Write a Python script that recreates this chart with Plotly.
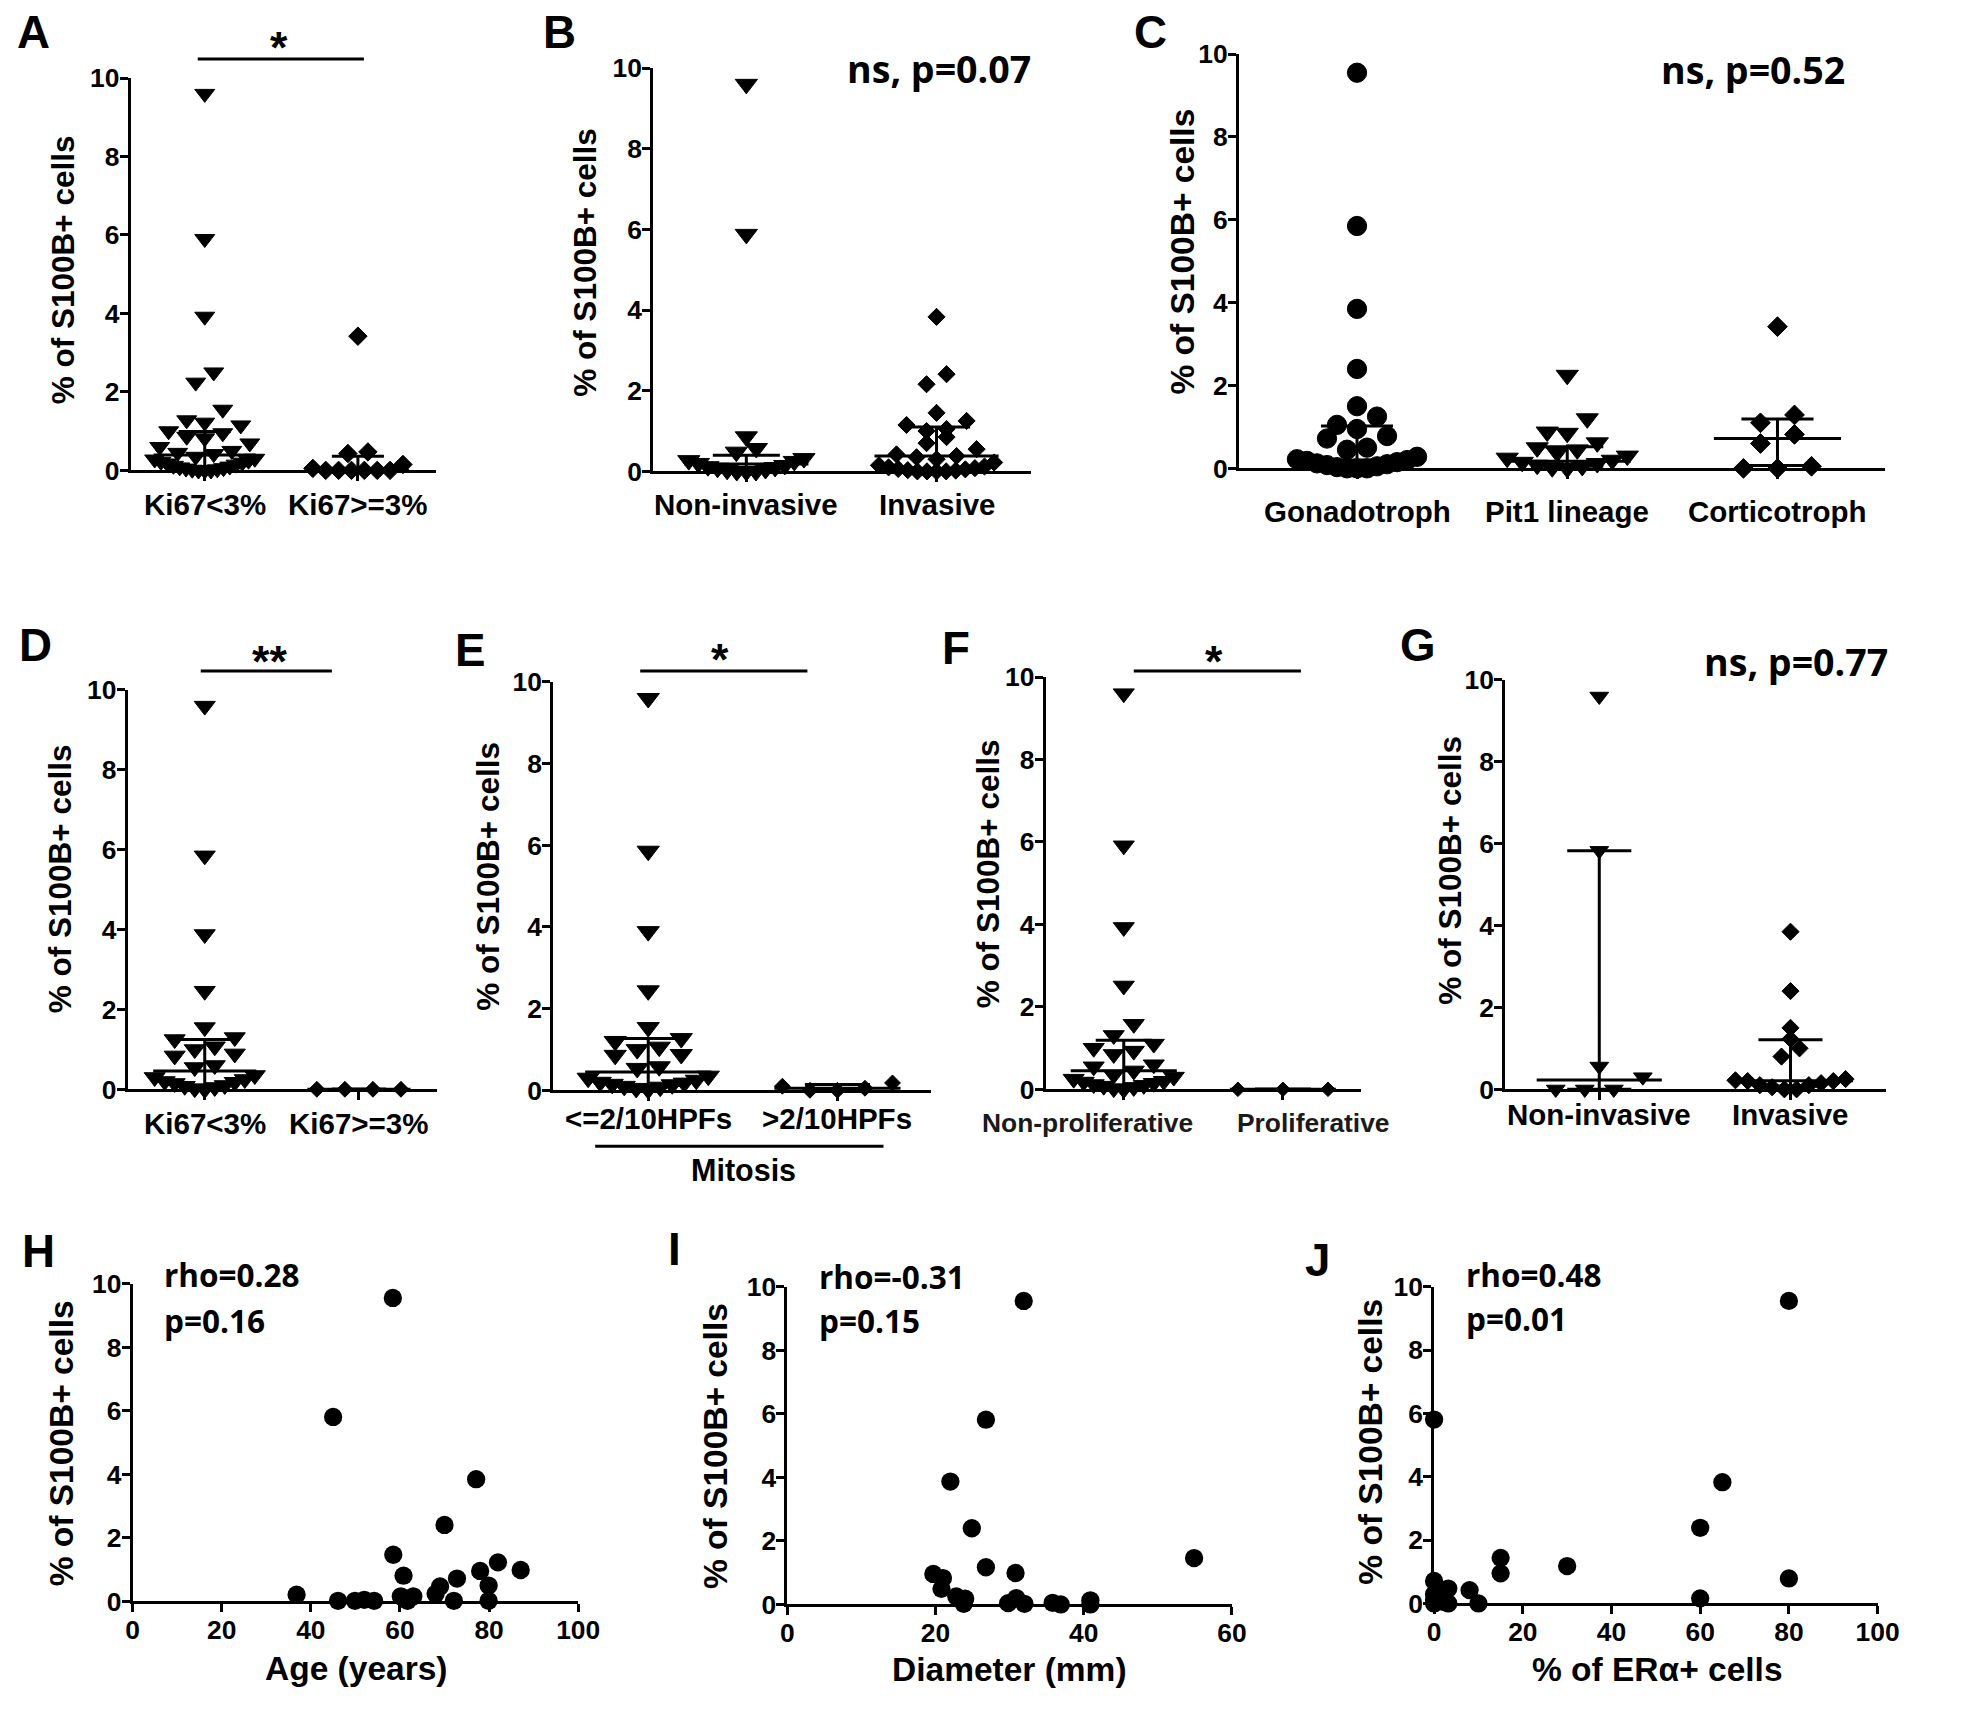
import numpy as np
import plotly.graph_objects as go

# ======================= DATA =======================
Y_TICKS = [0, 2, 4, 6, 8, 10]
Y_TITLE = "% of S100B+ cells"

# A
A_cats = ["Ki67<3%", "Ki67>=3%"]
A_ki67_low = [9.6, 5.9, 3.92, 2.5, 2.24, 1.55, 1.28, 1.22, 1.15, 1.0, 0.95, 0.86, 0.82, 0.69,
              0.6, 0.5, 0.45, 0.42, 0.35, 0.3, 0.28, 0.25, 0.22, 0.2, 0.18, 0.15, 0.12, 0.1,
              0.08, 0.06, 0.05, 0.03, 0.02, 0.0, 0.0, 0.0]
A_ki67_high = [3.42, 0.47, 0.43, 0.15, 0.05, 0.0, 0.0, 0.0, 0.0, 0.0, 0.0]
A_median = [0.39, 0.0]
A_q1 = [0.1, 0.0]
A_q3 = [0.99, 0.36]
A_sig = "*"

# B
B_cats = ["Non-invasive", "Invasive"]
B_noninvasive = [9.6, 5.88, 0.86, 0.57, 0.48, 0.32, 0.27, 0.25, 0.2, 0.15, 0.12, 0.1, 0.08,
                 0.05, 0.03, 0.0, 0.0, 0.0]
B_invasive = [3.83, 2.41, 2.16, 1.45, 1.25, 1.15, 1.05, 1.0, 0.85, 0.7, 0.55, 0.42, 0.38, 0.35,
              0.3, 0.22, 0.15, 0.12, 0.1, 0.08, 0.06, 0.05, 0.03, 0.02, 0.0, 0.0, 0.0, 0.0]
B_median = [0.18, 0.38]
B_q1 = [0.02, 0.05]
B_q3 = [0.40, 1.10]
B_stat = "ns, p=0.07"

# C
C_cats = ["Gonadotroph", "Pit1 lineage", "Corticotroph"]
C_gonadotroph = [9.55, 5.85, 3.85, 2.4, 1.5, 1.25, 1.05, 0.95, 0.78, 0.72, 0.5, 0.45, 0.28, 0.22,
                 0.2, 0.18, 0.15, 0.12, 0.1, 0.08, 0.05, 0.03, 0.0, 0.0, 0.0]
C_pit1 = [2.25, 1.2, 0.88, 0.85, 0.62, 0.5, 0.45, 0.38, 0.3, 0.25, 0.2, 0.15, 0.12, 0.08, 0.05,
          0.02, 0.0]
C_corticotroph = [3.42, 1.29, 1.1, 0.82, 0.6, 0.05, 0.0, 0.0]
C_median = [0.20, 0.17, 0.72]
C_q1 = [0.02, 0.05, 0.07]
C_q3 = [1.02, 0.52, 1.19]
C_stat = "ns, p=0.52"

# D
D_cats = ["Ki67<3%", "Ki67>=3%"]
D_ki67_low = [9.6, 5.85, 3.88, 2.46, 1.55, 1.3, 1.25, 1.07, 1.0, 0.89, 0.84, 0.6, 0.55, 0.35,
              0.3, 0.25, 0.2, 0.18, 0.15, 0.1, 0.08, 0.05, 0.02, 0.0]
D_ki67_high = [0.0, 0.0, 0.0, 0.0]
D_median = [0.46, 0.0]
D_q1 = [0.1, 0.0]
D_q3 = [1.25, 0.0]
D_sig = "**"

# E
E_cats = ["<=2/10HPFs", ">2/10HPFs"]
E_group_title = "Mitosis"
E_low = [9.6, 5.86, 3.89, 2.44, 1.54, 1.27, 1.2, 1.06, 1.0, 0.88, 0.86, 0.58, 0.54, 0.35, 0.3,
         0.25, 0.2, 0.18, 0.15, 0.14, 0.1, 0.08, 0.05, 0.02]
E_high = [0.18, 0.1, 0.05, 0.0, 0.0]
E_median = [0.45, 0.05]
E_q1 = [0.12, 0.0]
E_q3 = [1.27, 0.14]
E_sig = "*"

# F
F_cats = ["Non-proliferative", "Proliferative"]
F_nonproliferative = [9.6, 5.91, 3.93, 2.51, 1.58, 1.31, 1.1, 1.0, 0.93, 0.85, 0.6, 0.55, 0.45,
                      0.35, 0.3, 0.25, 0.2, 0.18, 0.15, 0.12, 0.1, 0.08, 0.05, 0.02, 0.0]
F_proliferative = [0.0, 0.0, 0.0]
F_median = [0.45, 0.0]
F_q1 = [0.1, 0.0]
F_q3 = [1.19, 0.0]
F_sig = "*"

# G
G_cats = ["Non-invasive", "Invasive"]
G_noninvasive = [9.6, 5.83, 0.56, 0.3, 0.0, 0.0, 0.0]
G_invasive = [3.85, 2.4, 1.5, 1.23, 1.0, 0.8, 0.25, 0.22, 0.2, 0.2, 0.15, 0.1, 0.1, 0.05, 0.0, 0.0]
G_median = [0.23, 0.21]
G_q1 = [0.0, 0.08]
G_q3 = [5.83, 1.21]
G_stat = "ns, p=0.77"

# H
H_age = [58.4, 45.0, 77.1, 70.0, 58.5, 82.0, 87.1, 78.0, 60.8, 72.8, 69.0, 79.9, 68.0, 36.8,
         46.1, 49.9, 52.0, 54.2, 60.2, 63.0, 61.7, 72.1, 79.9]
H_s100b = [9.56, 5.81, 3.85, 2.41, 1.47, 1.23, 0.99, 0.96, 0.81, 0.72, 0.47, 0.50, 0.24, 0.21,
           0.02, 0.02, 0.05, 0.02, 0.16, 0.16, 0.02, 0.02, 0.02]
H_xtitle = "Age (years)"
H_xticks = [0, 20, 40, 60, 80, 100]
H_stats = ["rho=0.28", "p=0.16"]

# I
I_diameter = [31.9, 26.8, 22.0, 24.9, 54.9, 26.8, 30.8, 19.7, 21.0, 20.8, 22.8, 24.0, 23.8, 29.8,
              30.9, 32.0, 35.8, 36.9, 40.9, 40.9]
I_s100b = [9.56, 5.82, 3.87, 2.40, 1.46, 1.17, 0.99, 0.96, 0.83, 0.49, 0.25, 0.18, 0.02, 0.04,
           0.20, 0.02, 0.05, 0.0, 0.13, 0.0]
I_xtitle = "Diameter (mm)"
I_xticks = [0, 20, 40, 60]
I_stats = ["rho=-0.31", "p=0.15"]

# J
J_era = [80, 0, 65, 60, 15, 30, 15, 80, 0, 3.2, 8, 0, 60, 10, 3.2, 0, 1.4, 0.5, 2, 0]
J_s100b = [9.56, 5.81, 3.83, 2.39, 1.44, 1.18, 0.95, 0.79, 0.71, 0.47, 0.42, 0.29, 0.16, 0.0,
           0.0, 0.0, 0.1, 0.2, 0.05, 0.12]
J_xtitle = "% of ERα+ cells"
J_xticks = [0, 20, 40, 60, 80, 100]
J_stats = ["rho=0.48", "p=0.01"]

# ======================= LAYOUT / STYLE =======================
PAGE_W, PAGE_H = 1961, 1712
BODY_MARGIN = 8                      # default browser body margin around the plot div
W, H = PAGE_W - 2 * BODY_MARGIN, PAGE_H - 2 * BODY_MARGIN
# empirical correction of the photographed page (slight shrink + shift)
SHRINK = 0.984
SHIFT_X, SHIFT_Y = 5.6, 14.0
FONT = "Liberation Sans, Arial, Helvetica, sans-serif"
STAT_FONT = "Open Sans, Noto Sans, DejaVu Sans, sans-serif"
BLACK = "black"


def sz(v):
    return round(v / SHRINK, 1)


def pxx(v):
    v = (v - SHIFT_X) / SHRINK
    return (v - BODY_MARGIN) / W


def pxy(v):
    v = (v - SHIFT_Y) / SHRINK
    return 1 - (v - BODY_MARGIN) / H


def axis_ids(k):
    s = "" if k == 1 else str(k)
    return "x" + s, "y" + s, "xaxis" + s, "yaxis" + s


AX_COMMON = dict(showline=True, linewidth=3, linecolor=BLACK, ticks="outside", ticklen=8,
                 tickwidth=3, tickcolor=BLACK, showgrid=False, zeroline=False, fixedrange=True)
TICKFONT = dict(family=FONT, size=sz(26), color=BLACK)


def bold_ticks(vals):
    return ["<b>%g</b>" % v for v in vals]


def row_offsets(vals, y_ppu, bin_px, gap_px, maxw_px):
    """GraphPad-like scatter-dot spreading: bin by y, spread each row horizontally."""
    vals = np.asarray(vals, float)
    order = np.argsort(vals, kind="stable")
    offs = np.zeros(len(vals))
    rows, cur, start = [], [], None
    for i in order:
        ypx = vals[i] * y_ppu
        if cur and ypx - start < bin_px:
            cur.append(i)
        else:
            if cur:
                rows.append(cur)
            cur, start = [i], ypx
    if cur:
        rows.append(cur)
    for r in rows:
        n = len(r)
        if n == 1:
            continue
        sp = min(gap_px, maxw_px / (n - 1))
        pos = (np.arange(n) - (n - 1) / 2) * sp
        order_pos = sorted(range(n), key=lambda j: (abs(pos[j]), pos[j]))
        for idx, j in zip(r, order_pos):
            offs[idx] = pos[j]
    return offs


fig = go.Figure()
layout_axes = {}
annotations = []
shapes = []


def text_ann(text, x, y, size, family=FONT, xanchor="center", yanchor="middle", angle=0,
             xref="paper", color=BLACK):
    annotations.append(dict(text=text, x=x, y=y, xref=xref, yref="paper", showarrow=False,
                            xanchor=xanchor, yanchor=yanchor, textangle=angle,
                            font=dict(family=family, size=sz(size), color=color,
                                      weight="bold")))


def hline_px(x0, x1, y, width=3):
    shapes.append(dict(type="line", xref="paper", yref="paper", x0=pxx(x0), x1=pxx(x1),
                       y0=pxy(y), y1=pxy(y), line=dict(color=BLACK, width=width)))


cat_panels = [
    dict(letter="A", letter_xy=(32, 31), groups=[A_ki67_low, A_ki67_high],
         symbols=[("triangle-down", 17), ("diamond", 14)], cats=A_cats,
         med=A_median, q1=A_q1, q3=A_q3, left=129, right=434, top=77, bottom=470,
         cat_px=[203, 356], label_y=504, label_fs=29, label_dx=[0, 0], ytitle_xy=(61, 269),
         ytitle_fs=31, med_w=102, cap_w=52, gap=[18, 20], maxw=[100, 90],
         sig=A_sig, sig_line=(196, 362, 58), sig_txt=(277, 46)),
    dict(letter="B", letter_xy=(557, 31), groups=[B_noninvasive, B_invasive],
         symbols=[("triangle-down", 19), ("diamond", 13)], cats=B_cats,
         med=B_median, q1=B_q1, q3=B_q3, left=651, right=1028, top=67, bottom=471,
         cat_px=[744, 934], label_y=504, label_fs=29, label_dx=[0, 0], ytitle_xy=(583, 262),
         ytitle_fs=31, med_w=124, cap_w=67, gap=[20, 20], maxw=[115, 115],
         stat=B_stat, stat_xy=(936, 67)),
    dict(letter="C", letter_xy=(1148, 31), groups=[C_gonadotroph, C_pit1, C_corticotroph],
         symbols=[("circle", 19), ("triangle-down", 19), ("diamond", 15)], cats=C_cats,
         med=C_median, q1=C_q1, q3=C_q3, left=1236, right=1881, top=53, bottom=468,
         cat_px=[1354, 1563, 1774], label_y=511, label_fs=29, label_dx=[0, 0, 0],
         ytitle_xy=(1180, 251), ytitle_fs=33, med_w=127, cap_w=72, gap=[20, 20, 34],
         maxw=[120, 120, 70], stat=C_stat, stat_xy=(1750, 68)),
    dict(letter="D", letter_xy=(34, 645), groups=[D_ki67_low, D_ki67_high],
         symbols=[("triangle-down", 18), ("diamond", 12)], cats=D_cats,
         med=D_median, q1=D_q1, q3=D_q3, left=126, right=435, top=690, bottom=1090,
         cat_px=[203, 357], label_y=1124, label_fs=29, label_dx=[0, 0], ytitle_xy=(58, 879),
         ytitle_fs=31, med_w=103, cap_w=54, gap=[20, 28], maxw=[100, 90],
         sig=D_sig, sig_line=(199, 330, 671), sig_txt=(268, 661)),
    dict(letter="E", letter_xy=(468, 650), groups=[E_low, E_high],
         symbols=[("triangle-down", 19), ("diamond", 12)], cats=E_cats,
         med=E_median, q1=E_q1, q3=E_q3, left=551, right=928, top=682, bottom=1091,
         cat_px=[646, 835], label_y=1119, label_fs=29, label_dx=[0, 0], ytitle_xy=(486, 877),
         ytitle_fs=31, med_w=126, cap_w=65, gap=[22, 36], maxw=[120, 110],
         sig=E_sig, sig_line=(638, 805, 671), sig_txt=(718, 659),
         group_line=(593, 881, 1147), group_title=E_group_title, group_title_xy=(741, 1171)),
    dict(letter="F", letter_xy=(953, 648), groups=[F_nonproliferative, F_proliferative],
         symbols=[("triangle-down", 18), ("diamond", 11)], cats=F_cats,
         med=F_median, q1=F_q1, q3=F_q3, left=1043, right=1358, top=677, bottom=1090,
         cat_px=[1121, 1280], label_y=1124, label_fs=26, label_dx=[-36, 31],
         label_color="#1a1a1a", ytitle_xy=(985, 874),
         ytitle_fs=31, med_w=106, cap_w=56, gap=[20, 45], maxw=[100, 90],
         sig=F_sig, sig_line=(1131, 1298, 671), sig_txt=(1211, 661)),
    dict(letter="G", letter_xy=(1415, 645), groups=[G_noninvasive, G_invasive],
         symbols=[("triangle-down", 16), ("diamond", 13)], cats=G_cats,
         med=G_median, q1=G_q1, q3=G_q3, left=1502, right=1882, top=680, bottom=1090,
         cat_px=[1596, 1787], label_y=1115, label_fs=29, label_dx=[0, 0], ytitle_xy=(1447, 871),
         ytitle_fs=31, med_w=125, cap_w=64, gap=[29, 18], maxw=[90, 110],
         stat=G_stat, stat_xy=(1793, 661)),
]

scatter_panels = [
    dict(letter="H", letter_xy=(37, 1252), x=H_age, y=H_s100b, xticks=H_xticks,
         xtitle=H_xtitle, xtitle_xy=(354, 1670), left=131, right=576, top=1285, bottom=1603,
         ytitle_xy=(60, 1445), stats=H_stats, stats_xy=(160, 1276, 1322)),
    dict(letter="I", letter_xy=(672, 1250), x=I_diameter, y=I_s100b, xticks=I_xticks,
         xtitle=I_xtitle, xtitle_xy=(1007, 1671), left=785, right=1229, top=1288, bottom=1606,
         ytitle_xy=(713, 1447), stats=I_stats, stats_xy=(815, 1278, 1322)),
    dict(letter="J", letter_xy=(1315, 1262), x=J_era, y=J_s100b, xticks=J_xticks,
         xtitle=J_xtitle, xtitle_xy=(1654, 1671), left=1431, right=1874, top=1288, bottom=1605,
         ytitle_xy=(1368, 1443), stats=J_stats, stats_xy=(1461, 1276, 1320)),
]

k = 0
for p in cat_panels:
    k += 1
    xid, yid, xkey, ykey = axis_ids(k)
    n = len(p["cats"])
    cpx = p["cat_px"]
    ppu = (cpx[-1] - cpx[0]) / (n - 1)
    lo = 1 - (cpx[0] - p["left"]) / ppu
    hi = n + (p["right"] - cpx[-1]) / ppu
    y_ppu = (p["bottom"] - p["top"]) / 10.0
    layout_axes[xkey] = dict(AX_COMMON, domain=[pxx(p["left"]), pxx(p["right"])],
                             range=[lo, hi], anchor=yid, tickvals=list(range(1, n + 1)),
                             showticklabels=False)
    layout_axes[ykey] = dict(AX_COMMON, domain=[pxy(p["bottom"]), pxy(p["top"])],
                             range=[0, 10], anchor=xid, tickvals=Y_TICKS,
                             ticktext=bold_ticks(Y_TICKS), tickfont=TICKFONT,
                             ticklabelstandoff=-5)
    for gi, vals in enumerate(p["groups"]):
        sym, size = p["symbols"][gi]
        offs = row_offsets(vals, y_ppu, size * 0.8, p["gap"][gi], p["maxw"][gi])
        xs = (gi + 1) + offs / ppu
        fig.add_trace(go.Scatter(x=xs, y=vals, mode="markers", xaxis=xid, yaxis=yid,
                                 marker=dict(symbol=sym, size=sz(size), color=BLACK,
                                             line=dict(width=1, color=BLACK)),
                                 cliponaxis=False, showlegend=False, hoverinfo="skip"))
        c = gi + 1
        mw = p["med_w"] / 2 / ppu
        cw = p["cap_w"] / 2 / ppu
        m, a, b = p["med"][gi], p["q1"][gi], p["q3"][gi]
        lx = [c - mw, c + mw, None, c - cw, c + cw, None, c - cw, c + cw, None, c, c]
        ly = [m, m, None, a, a, None, b, b, None, a, b]
        fig.add_trace(go.Scatter(x=lx, y=ly, mode="lines", xaxis=xid, yaxis=yid,
                                 line=dict(color=BLACK, width=3), showlegend=False,
                                 hoverinfo="skip"))
        text_ann(p["cats"][gi], c + p["label_dx"][gi] / ppu, pxy(p["label_y"]), p["label_fs"],
                 xref=xid, color=p.get("label_color", BLACK))
    text_ann(p["letter"], pxx(p["letter_xy"][0]), pxy(p["letter_xy"][1]), 45)
    text_ann(Y_TITLE, pxx(p["ytitle_xy"][0]), pxy(p["ytitle_xy"][1]), p["ytitle_fs"], angle=-90)
    if "sig" in p:
        x0, x1, yy = p["sig_line"]
        hline_px(x0, x1, yy)
        text_ann(p["sig"], pxx(p["sig_txt"][0]), pxy(p["sig_txt"][1]), 44)
    if "stat" in p:
        text_ann(p["stat"], pxx(p["stat_xy"][0]), pxy(p["stat_xy"][1]), 37, family=STAT_FONT)
    if "group_line" in p:
        x0, x1, yy = p["group_line"]
        hline_px(x0, x1, yy)
        gx, gy = p["group_title_xy"]
        text_ann(p["group_title"], pxx(gx), pxy(gy), 30)

for p in scatter_panels:
    k += 1
    xid, yid, xkey, ykey = axis_ids(k)
    layout_axes[xkey] = dict(AX_COMMON, domain=[pxx(p["left"]), pxx(p["right"])],
                             range=[p["xticks"][0], p["xticks"][-1]], anchor=yid,
                             tickvals=p["xticks"], ticktext=bold_ticks(p["xticks"]),
                             tickfont=TICKFONT, ticklabelstandoff=-5)
    layout_axes[ykey] = dict(AX_COMMON, domain=[pxy(p["bottom"]), pxy(p["top"])],
                             range=[0, 10], anchor=xid, tickvals=Y_TICKS,
                             ticktext=bold_ticks(Y_TICKS), tickfont=TICKFONT,
                             ticklabelstandoff=-5)
    fig.add_trace(go.Scatter(x=p["x"], y=p["y"], mode="markers", xaxis=xid, yaxis=yid,
                             marker=dict(symbol="circle", size=sz(18), color=BLACK,
                                         line=dict(width=0)),
                             cliponaxis=False, showlegend=False, hoverinfo="skip"))
    text_ann(p["letter"], pxx(p["letter_xy"][0]), pxy(p["letter_xy"][1]), 45)
    text_ann(Y_TITLE, pxx(p["ytitle_xy"][0]), pxy(p["ytitle_xy"][1]), 33, angle=-90)
    text_ann(p["xtitle"], pxx(p["xtitle_xy"][0]), pxy(p["xtitle_xy"][1]), 33)
    sx, sy1, sy2 = p["stats_xy"]
    text_ann(p["stats"][0], pxx(sx), pxy(sy1), 31, family=STAT_FONT, xanchor="left")
    text_ann(p["stats"][1], pxx(sx), pxy(sy2), 31, family=STAT_FONT, xanchor="left")

fig.update_layout(
    width=W, height=H, margin=dict(l=0, r=0, t=0, b=0, pad=0),
    paper_bgcolor="white", plot_bgcolor="white", showlegend=False,
    annotations=annotations, shapes=shapes, **layout_axes,
)

fig.write_html("out.html", config={"displayModeBar": False, "responsive": False})
